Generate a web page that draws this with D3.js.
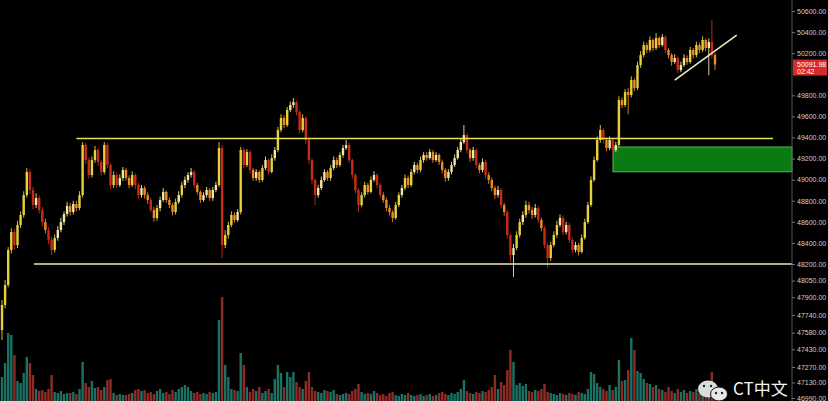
<!DOCTYPE html>
<html><head><meta charset="utf-8">
<script src="https://cdn.jsdelivr.net/npm/d3@7"></script>
<style>html,body{margin:0;padding:0;background:#000;overflow:hidden}</style>
</head><body><svg id="c" width="828" height="401"></svg>
<script>
const open=[47604,47830,48010,48334,48503,48380,48570,48665,48854,49073,48902,48759,48826,48712,48598,48522,48428,48334,48447,48522,48598,48674,48750,48693,48769,48731,48854,49329,49186,49044,49186,49281,49167,49073,49329,49139,48949,49044,48949,49016,49092,49016,48949,49044,48949,48854,48921,48854,48807,48712,48636,48731,48807,48883,48807,48759,48693,48788,48854,48949,48997,49044,49073,48949,48883,48807,48854,48902,48826,48902,48949,49300,48380,48475,48570,48665,48617,48693,49281,49139,49262,49092,49016,49073,48997,49110,49186,49073,49205,49281,49471,49585,49518,49661,49708,49736,49642,49471,49585,49376,49186,48997,48854,48921,48997,49073,49016,49110,49186,49139,49234,49300,49329,49186,49044,48902,48759,48854,48949,48883,48997,49044,48949,48854,48807,48731,48693,48636,48759,48854,48921,49016,48949,49073,49139,49092,49186,49234,49205,49262,49186,49234,49167,49092,49016,49073,49139,49205,49281,49357,49423,49281,49205,49281,49139,49092,49167,49044,48997,48921,48854,48902,48759,48693,48475,48285,48352,48475,48598,48665,48759,48712,48665,48731,48617,48541,48380,48257,48380,48475,48570,48636,48503,48570,48428,48334,48380,48315,48447,48598,48759,48997,49186,49376,49471,49376,49300,49376,49281,49329,49755,49708,49831,49803,49945,49869,50087,50182,50277,50230,50325,50249,50344,50277,50353,50230,50182,50116,50154,50040,50087,50154,50116,50230,50182,50277,50230,50325,50249,50306,50182];
const close=[47830,48010,48334,48503,48380,48570,48665,48854,49073,48902,48759,48826,48712,48598,48522,48428,48334,48447,48522,48598,48674,48750,48693,48769,48731,48854,49329,49186,49044,49186,49281,49167,49073,49329,49139,48949,49044,48949,49016,49092,49016,48949,49044,48949,48854,48921,48854,48807,48712,48636,48731,48807,48883,48807,48759,48693,48788,48854,48949,48997,49044,49073,48949,48883,48807,48854,48902,48826,48902,48949,49300,48380,48475,48570,48665,48617,48693,49281,49139,49262,49092,49016,49073,48997,49110,49186,49073,49205,49281,49471,49585,49518,49661,49708,49736,49642,49471,49585,49376,49186,48997,48854,48921,48997,49073,49016,49110,49186,49139,49234,49300,49329,49186,49044,48902,48759,48854,48949,48883,48997,49044,48949,48854,48807,48731,48693,48636,48759,48854,48921,49016,48949,49073,49139,49092,49186,49234,49205,49262,49186,49234,49167,49092,49016,49073,49139,49205,49281,49357,49423,49281,49205,49281,49139,49092,49167,49044,48997,48921,48854,48902,48759,48693,48475,48285,48352,48475,48598,48665,48759,48712,48665,48731,48617,48541,48380,48257,48380,48475,48570,48636,48503,48570,48428,48334,48380,48315,48447,48598,48759,48997,49186,49376,49471,49376,49300,49376,49281,49329,49755,49708,49831,49803,49945,49869,50087,50182,50277,50230,50325,50249,50344,50277,50353,50230,50182,50116,50154,50040,50087,50154,50116,50230,50182,50277,50230,50325,50249,50306,50182,50092];
const high=[47875,48056,48360,48540,48530,48610,48700,48890,49110,49100,48930,48870,48850,48740,48630,48550,48460,48480,48560,48640,48700,48790,48780,48800,48800,48890,49357,49350,49210,49220,49320,49300,49190,49357,49350,49160,49080,49070,49050,49120,49110,49040,49080,49060,48970,48950,48940,48880,48830,48740,48760,48840,48920,48900,48830,48780,48820,48890,48980,49030,49070,49110,49090,48970,48900,48880,48930,48920,48930,48980,49357,49330,48520,48600,48700,48690,48720,49310,49300,49290,49280,49110,49100,49090,49140,49220,49200,49240,49310,49500,49620,49610,49690,49740,49774,49750,49660,49620,49600,49400,49200,49010,48950,49030,49100,49090,49140,49220,49210,49260,49330,49376,49350,49200,49060,48920,48880,48980,48970,49030,49080,49060,48970,48880,48830,48760,48710,48790,48880,48950,49050,49040,49100,49170,49160,49220,49260,49260,49290,49280,49260,49250,49190,49110,49100,49170,49240,49310,49390,49518,49440,49300,49310,49300,49160,49200,49190,49070,49020,48940,48940,48920,48780,48710,48490,48390,48510,48630,48700,48800,48790,48740,48770,48750,48640,48560,48400,48410,48510,48610,48670,48660,48600,48590,48450,48410,48400,48480,48630,48790,49030,49220,49410,49518,49490,49400,49410,49390,49360,49790,49780,49860,49870,49980,49960,50120,50220,50310,50300,50360,50340,50391,50360,50380,50370,50250,50200,50190,50170,50120,50190,50180,50260,50250,50310,50300,50360,50340,50340,50514,50200];
const low=[47514,47800,47990,48300,48340,48350,48540,48640,48830,48860,48720,48730,48680,48560,48490,48390,48285,48310,48420,48500,48570,48650,48660,48670,48700,48710,48830,49150,49010,49020,49160,49130,49040,49050,49110,48910,48920,48920,48930,48990,48990,48920,48930,48910,48820,48830,48820,48770,48690,48600,48610,48700,48790,48780,48730,48660,48670,48770,48830,48920,48970,49020,48920,48860,48780,48790,48830,48800,48800,48880,48930,48257,48350,48440,48550,48590,48600,48670,49110,49120,49060,48990,48990,48970,48980,49090,49050,49060,49180,49260,49450,49490,49500,49640,49680,49610,49440,49450,49340,49150,48960,48759,48830,48900,48980,48990,48990,49090,49110,49120,49210,49280,49160,49010,48870,48693,48740,48830,48860,48870,48980,48920,48830,48780,48700,48660,48598,48620,48740,48830,48900,48920,48930,49050,49060,49070,49160,49180,49190,49160,49170,49140,49060,48980,48990,49050,49120,49190,49260,49340,49250,49170,49180,49110,49060,49070,49010,48960,48890,48820,48830,48730,48660,48440,48219,48083,48330,48450,48570,48640,48680,48630,48640,48590,48510,48350,48164,48230,48360,48450,48550,48470,48480,48400,48300,48310,48280,48300,48430,48580,48740,48980,49170,49350,49340,49270,49280,49250,49260,49310,49680,49690,49620,49780,49840,49850,50060,50160,50200,50210,50220,50230,50250,50260,50200,50150,50080,50100,50010,50020,50070,50090,50100,50150,50160,50200,50210,50220,49990,50150,50040];
const volume=[24,38,68,66,46,20,18,28,44,38,26,12,10,11,9,12,26,9,8,10,7,8,8,9,7,12,39,18,14,20,13,14,11,14,21,22,8,6,7,6,6,7,8,11,12,10,11,8,9,7,10,12,8,9,7,11,9,12,14,16,14,10,8,9,7,8,7,9,8,9,81,104,36,24,12,11,10,48,36,14,9,12,10,14,8,10,12,8,22,36,28,14,29,24,29,19,14,12,20,29,14,10,9,8,11,10,9,11,7,6,7,8,7,10,12,17,9,7,8,7,10,8,6,7,5,8,9,6,5,7,6,8,6,5,6,7,5,6,7,5,6,8,9,7,6,8,7,9,12,21,10,8,7,9,8,10,9,11,14,26,12,19,16,31,51,39,16,18,15,17,10,9,11,10,12,17,9,8,7,6,8,7,6,8,7,6,9,8,7,12,29,27,18,14,12,10,16,11,14,41,20,21,31,63,51,30,28,22,18,17,14,16,12,11,9,14,10,8,12,9,11,8,10,9,12,8,10,9,11,29,15];
const priceTicks=[50600,50400,50200,49800,49600,49400,49200,49000,48800,48600,48400,48200,48050,47900,47740,47580,47430,47270,47130,46990];
const resistance=49390, support=48200;
const zone=[49075,49310];
const trend={i:[217,237],p:[49945,50372]};
const lastPrice=50091.98, lastTime="02:42";

const W=828,H=401,AX=792;
const svg=d3.select('#c');
svg.append('rect').attr('width',W).attr('height',H).attr('fill','#000');
const n=close.length;
const x=d3.scaleLinear().domain([0,n-1]).range([2,715]);
const y=d3.scaleLinear().domain([46990,48200,50600]).range([398,264,11]);
const yv=d3.scaleLinear().domain([0,104]).range([401,297]);

// volume
svg.append('g').selectAll('rect').data(volume).join('rect')
  .attr('x',(d,i)=>x(i)-1.2).attr('width',2.4)
  .attr('y',d=>yv(d)).attr('height',d=>yv(0)-yv(d))
  .attr('fill',(d,i)=>close[i]>=open[i]?'#1e8576':'#a8322b').attr('opacity',0.85);

// green zone
svg.append('rect').attr('x',613).attr('width',AX-613)
  .attr('y',y(zone[1])).attr('height',y(zone[0])-y(zone[1]))
  .attr('fill','#0a7a12').attr('stroke','#58b85a').attr('stroke-width',1);

// candles
const col=i=>{const up=close[i]>=open[i],b=Math.abs(close[i]-open[i]);
  return up?(b>90?'#e8d03c':'#f3e6a4'):(b>90?'#c92b1b':'#ef8a20');};
const g=svg.append('g');
const idx=d3.range(n);
g.selectAll('line').data(idx).join('line')
  .attr('x1',i=>x(i)).attr('x2',i=>x(i))
  .attr('y1',i=>y(high[i])).attr('y2',i=>y(low[i]))
  .attr('stroke',col).attr('stroke-width',0.9);
g.selectAll('rect').data(idx).join('rect')
  .attr('x',i=>x(i)-1.2).attr('width',2.4)
  .attr('y',i=>y(Math.max(open[i],close[i])))
  .attr('height',i=>Math.max(1,Math.abs(y(open[i])-y(close[i]))))
  .attr('fill',col);

// levels
svg.append('line').attr('x1',x(24)).attr('x2',773).attr('y1',y(resistance)).attr('y2',y(resistance))
  .attr('stroke','#e6df58').attr('stroke-width',1.6);
svg.append('line').attr('x1',34).attr('x2',AX).attr('y1',y(support)).attr('y2',y(support))
  .attr('stroke','#e9e5c2').attr('stroke-width',1.6);
svg.append('line').attr('x1',x(trend.i[0])).attr('x2',x(trend.i[1]))
  .attr('y1',y(trend.p[0])).attr('y2',y(trend.p[1]))
  .attr('stroke','#f0ecc4').attr('stroke-width',1.5);

// axis
const ax=svg.append('g').attr('transform',`translate(${AX},0)`)
  .call(d3.axisRight(y).tickValues(priceTicks).tickSize(3).tickPadding(2).tickFormat(d=>d.toFixed(2)));
ax.select('.domain').attr('stroke','#555').attr('d',`M0,0V${H}`);
ax.selectAll('.tick line').attr('stroke','#777');
ax.selectAll('.tick text').attr('fill','#cfcfcf').attr('font-size',7).attr('font-family','Liberation Sans, Arial');

// last price label
const ly=y(lastPrice);
svg.append('rect').attr('x',AX+1).attr('y',ly-5).attr('width',34).attr('height',16).attr('fill','#d62b2b');
svg.append('text').attr('x',AX+5).attr('y',ly+2).text(lastPrice.toFixed(2))
  .attr('fill','#fff').attr('font-size',7).attr('font-family','Liberation Sans, Arial');
svg.append('text').attr('x',AX+5).attr('y',ly+9).text(lastTime)
  .attr('fill','#fff').attr('font-size',7).attr('font-family','Liberation Sans, Arial');

// watermark
const wm=svg.append('g');
wm.append('ellipse').attr('cx',708).attr('cy',389).attr('rx',10).attr('ry',8.5).attr('fill','#dcdcdc');
wm.append('ellipse').attr('cx',719).attr('cy',394).attr('rx',8.5).attr('ry',7).attr('fill','#e8e8e8').attr('stroke','#111').attr('stroke-width',1);
[[704,386],[711,386],[716,393],[722,393]].forEach(p=>wm.append('circle').attr('cx',p[0]).attr('cy',p[1]).attr('r',1.2).attr('fill','#222'));
wm.append('text').attr('x',733).attr('y',395).text('CT中文').attr('fill','#f4f4f4')
  .attr('font-size',17).attr('font-family','Noto Sans CJK SC, Noto Sans, sans-serif');
</script></body></html>
